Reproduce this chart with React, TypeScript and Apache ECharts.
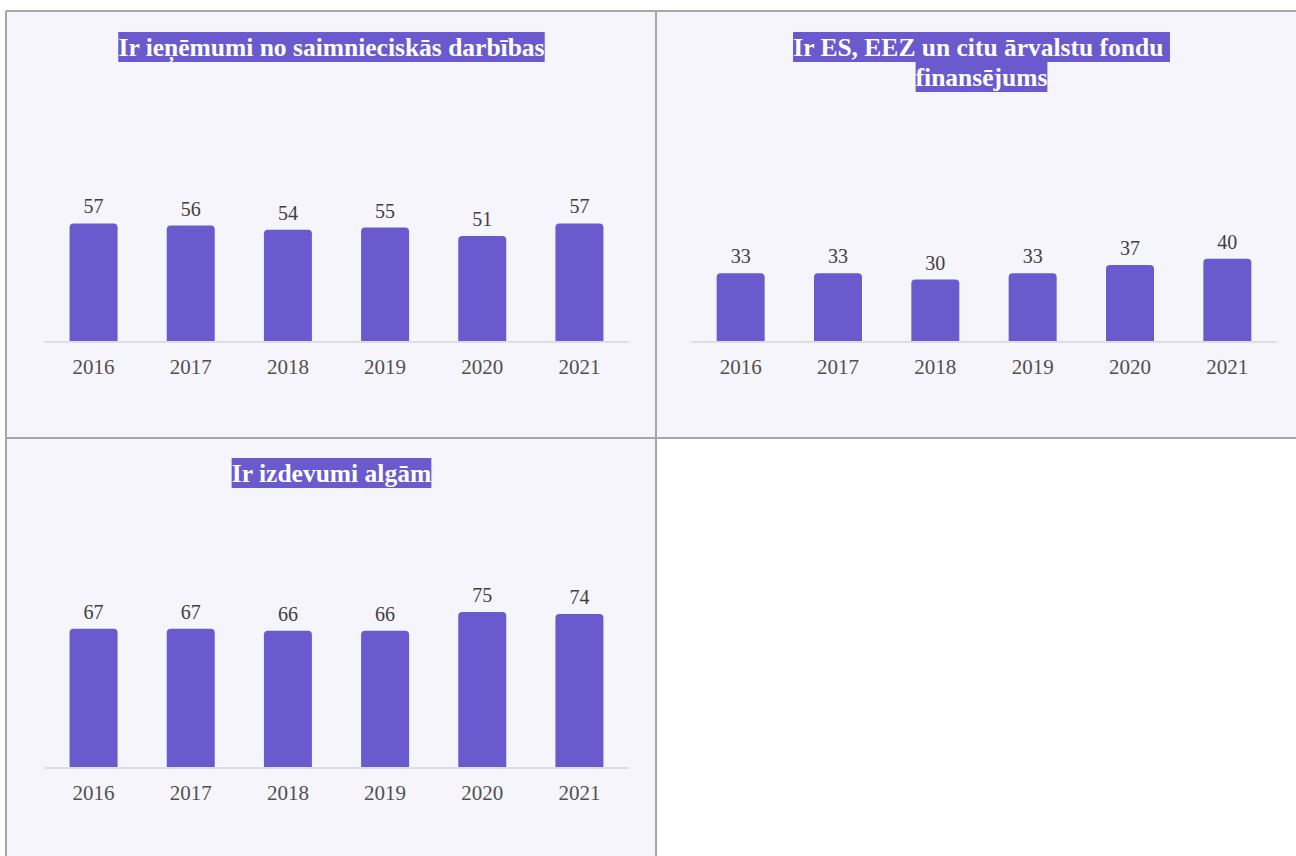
import React, { useEffect, useRef } from "react";
import * as echarts from "echarts";

const years = ["2016", "2017", "2018", "2019", "2020", "2021"];
const incomeValues = [57, 56, 54, 55, 51, 57];
const fundingValues = [33, 33, 30, 33, 37, 40];
const salaryValues = [67, 67, 66, 66, 75, 74];
const titles = [
  ["Ir ieņēmumi no saimnieciskās darbības"],
  ["Ir ES, EEZ un citu ārvalstu fondu ", "finansējums"],
  ["Ir izdevumi algām"],
];

const BAR = "#6a5acd";
const PANEL_BG = "#f6f5fb";
const BORDER = "#a6a6a6";
const SERIF = "'Liberation Serif', 'Times New Roman', serif";

export default function App() {
  const ref = useRef<HTMLDivElement>(null);
  useEffect(() => {
    if (!ref.current) return;
    const chart = echarts.init(ref.current, null, { renderer: "svg" });
    const panels = [
      { x: 7, y: 12, w: 649, h: 426 },
      { x: 657, y: 12, w: 649, h: 426 },
      { x: 7, y: 438, w: 649, h: 426 },
    ];
    const grids = [
      { left: 45, top: 134, width: 583, height: 208 },
      { left: 692, top: 134, width: 584, height: 208 },
      { left: 45, top: 560, width: 583, height: 208 },
    ];
    const dataSets = [incomeValues, fundingValues, salaryValues];

    const graphics: any[] = [];
    panels.forEach((p) => {
      graphics.push({
        type: "rect",
        shape: { x: p.x, y: p.y, width: p.w, height: p.h },
        style: { fill: PANEL_BG },
        z: -10,
      });
    });
    const lines = [
      [6, 11, 1300, 11],
      [6, 11, 6, 860],
      [656, 11, 656, 860],
      [6, 438, 1300, 438],
    ];
    lines.forEach((l) => {
      graphics.push({
        type: "line",
        shape: { x1: l[0], y1: l[1], x2: l[2], y2: l[3] },
        style: { stroke: BORDER, lineWidth: 2 },
        z: 10,
      });
    });
    titles.forEach((t, i) => {
      const p = panels[i];
      graphics.push({
        type: "text",
        x: p.x + p.w / 2,
        y: p.y + 20,
        style: {
          text: t.map((s) => `{a|${s}}`).join("\n"),
          align: "center",
          verticalAlign: "top",
          fill: "#ffffff",
          rich: {
            a: {
              fontFamily: SERIF,
              fontWeight: "bold",
              fontSize: 25.5,
              lineHeight: 30,
              height: 30,
              fill: "#ffffff",
              backgroundColor: BAR,
            },
          },
        },
        z: 5,
      });
    });

    chart.setOption({
      animation: false,
      backgroundColor: "#ffffff",
      graphic: graphics,
      grid: grids.map((g) => ({ ...g, containLabel: false })),
      xAxis: grids.map((_, i) => ({
        type: "category",
        gridIndex: i,
        data: years,
        axisLine: { show: true, lineStyle: { color: "#dddde3", width: 2 } },
        axisTick: { show: false },
        axisLabel: {
          fontFamily: SERIF,
          fontSize: 21,
          color: "#505050",
          margin: 14,
        },
        z: 3,
      })),
      yAxis: grids.map((_, i) => ({
        type: "value",
        gridIndex: i,
        min: 0,
        max: 100,
        show: false,
        splitLine: { show: false },
      })),
      series: dataSets.map((d, i) => ({
        type: "bar",
        xAxisIndex: i,
        yAxisIndex: i,
        data: d,
        barWidth: 48,
        itemStyle: { color: BAR, borderRadius: [4, 4, 0, 0] },
        label: {
          show: true,
          position: "top",
          distance: 7,
          fontFamily: SERIF,
          fontSize: 20,
          color: "#404040",
        },
      })),
    });
    return () => chart.dispose();
  }, []);
  return (
    <div
      ref={ref}
      style={{ position: "absolute", left: 0, top: 0, width: 1296, height: 856 }}
    />
  );
}
